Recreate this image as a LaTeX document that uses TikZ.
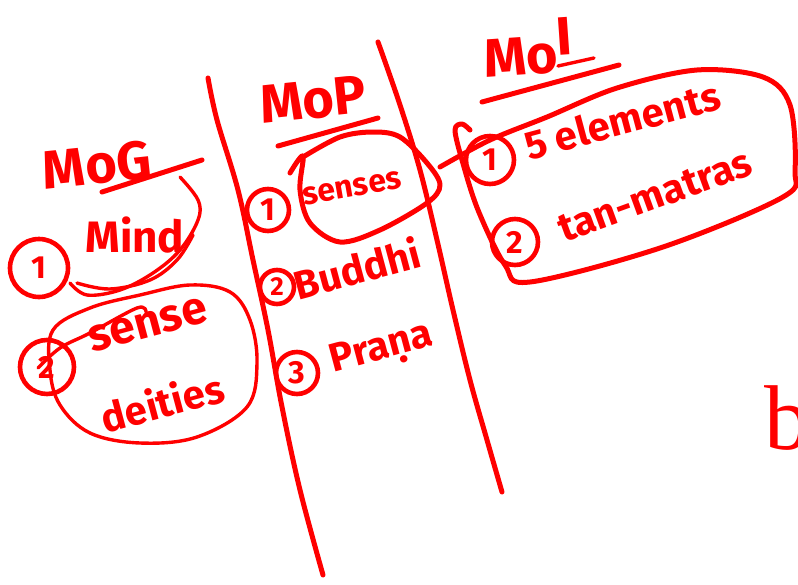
\documentclass[tikz,border=0pt]{standalone}
\usepackage{fontspec}
\newfontfamily\handfont{Fira Sans}
\newfontfamily\serifb{Liberation Serif}
\begin{document}
\begin{tikzpicture}[x=1pt,y=-1pt,
  ink/.style={draw=red,line width=5pt,line cap=round,line join=round},
  thin/.style={draw=red,line width=3.4pt,line cap=round,line join=round},
  hand/.style={text=red,inner sep=0pt,font=\handfont\bfseries\fontsize{40}{40}\selectfont},
  title/.style={hand,font=\handfont\bfseries\fontsize{54}{54}\selectfont},
  numc/.style={circle,draw=red,line width=4.6pt,text=red,inner sep=0pt,font=\handfont\bfseries\fontsize{32}{32}\selectfont}]
\useasboundingbox (0,0) rectangle (798,584);
% dividers
\draw[ink] plot[smooth,tension=0.6] coordinates {(208,78) (217,120) (238,190) (253,260) (268,330) (282,407) (300,490) (323,575)};
\draw[ink] plot[smooth,tension=0.6] coordinates {(378,42) (400,105) (420,170) (437,240) (453,310) (470,380) (487,440) (502,492)};
% titles
\node[title,rotate=6] (mog) at (97,165) {MoG};
\coordinate (mogu1) at (102,192); \coordinate (mogu2) at (202,160);
\draw[ink] (mogu1) -- (mogu2);
\node[title,rotate=6] (mop) at (313,100) {MoP};
\coordinate (mopu1) at (278,146); \coordinate (mopu2) at (378,118);
\draw[ink] (mopu1) -- (mopu2);
\node[title,rotate=4,anchor=base] (moi) at (530,74) {Mo\raisebox{17pt}{I}};
\coordinate (moiu1) at (482,102); \coordinate (moiu2) at (619,65);
\draw[ink] (moiu1) -- (moiu2);
\coordinate (moii1) at (558,66); \coordinate (moii2) at (594,58);
\draw[thin] (moii1) -- (moii2);
% MoG column
\node[numc,minimum size=58pt] (g1) at (39,268) {1};
\node[hand,font=\handfont\bfseries\fontsize{44}{44}\selectfont] (mind) at (135,235) {Mind};
\draw[thin] plot[smooth,tension=0.6] coordinates {(180,177) (198,200) (198,220) (180,250) (153,273) (120,290) (87,295) (70,283)};
\draw[thin] plot[smooth,tension=0.6] coordinates {(77,283) (110,289) (150,280) (177,260) (193,235)};
\node[numc,minimum size=54pt] (g2) at (47,367) {2};
\node[hand,rotate=15,font=\handfont\bfseries\fontsize{46}{46}\selectfont] (sense) at (148,325) {sense};
\node[hand,rotate=15] (deities) at (162,402) {deities};
\draw[thin] plot[smooth cycle,tension=0.6] coordinates {(53,330) (90,308) (140,295) (190,285) (230,292) (250,320) (257,363) (247,407) (197,437) (140,443) (90,433) (60,405) (50,370)};
\draw[thin] plot[smooth,tension=0.6] coordinates {(38,368) (60,348) (90,333) (137,308) (146,312)};
% MoP column
\node[numc,minimum size=42pt] (p1) at (268,210) {1};
\node[hand,rotate=10,font=\handfont\bfseries\fontsize{32}{32}\selectfont] (senses) at (352,188) {senses};
\draw[ink] plot[smooth,tension=0.55] coordinates {(290,173) (303,156) (300,190) (310,223) (340,242) (380,230) (427,203) (440,185) (427,163) (400,137) (373,132) (340,137) (303,157)};
\node[numc,minimum size=34pt,font=\handfont\bfseries\fontsize{26}{26}\selectfont] (p2) at (277,287) {2};
\node[hand,rotate=15] (buddhi) at (357,268) {Buddhi};
\node[numc,minimum size=42pt] (p3) at (297,373) {3};
\node[hand,rotate=15] (prana) at (382,350) {Pra\d{n}a};
% MoI column
\node[numc,minimum size=48pt] (i1) at (490,160) {1};
\node[hand,rotate=15] (elem) at (622,120) {5 elements};
\node[numc,minimum size=46pt] (i2) at (515,242) {2};
\node[hand,rotate=20] (tanm) at (655,196) {tan-matras};
\draw[ink] plot[smooth,tension=0.55] coordinates {(440,167) (490,140) (547,117) (617,88) (697,70) (763,77) (790,105) (795,170) (783,197) (663,247) (530,282) (505,265) (478,210) (462,160) (455,130) (462,124) (470,130)};
% right edge letter
\node[text=red,inner sep=0pt,anchor=base west,font=\serifb\fontsize{92}{92}\selectfont] (bb) at (764,449) {b};
\end{tikzpicture}
\end{document}
